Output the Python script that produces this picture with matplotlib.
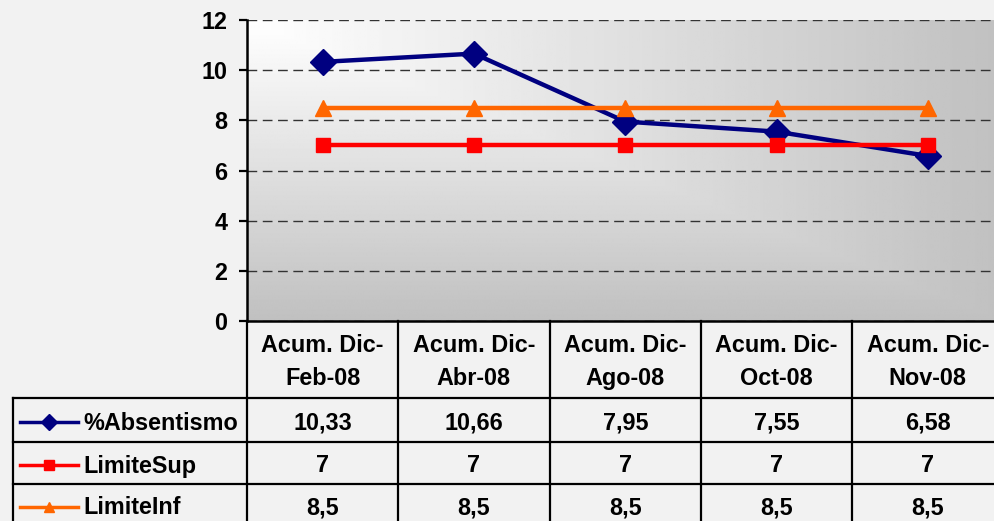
import numpy as np
import matplotlib.pyplot as plt
from matplotlib.lines import Line2D
from matplotlib.transforms import blended_transform_factory

plt.rcParams['font.family'] = ['Liberation Sans', 'DejaVu Sans']
plt.rcParams['font.weight'] = 'bold'

# datos
categorias = ['Acum. Dic-\nFeb-08', 'Acum. Dic-\nAbr-08', 'Acum. Dic-\nAgo-08',
              'Acum. Dic-\nOct-08', 'Acum. Dic-\nNov-08']
absentismo = [10.33, 10.66, 7.95, 7.55, 6.58]
limiteSup = [7, 7, 7, 7, 7]
limiteInf = [8.5, 8.5, 8.5, 8.5, 8.5]

series = [('%Absentismo', absentismo, '#000080', 'D', 13),
          ('LimiteSup', limiteSup, '#ff0000', 's', 10),
          ('LimiteInf', limiteInf, '#ff6600', '^', 11)]

W, H = 995, 521
fondo = '#f2f2f2'
fs = 16.8
fig = plt.figure(figsize=(W / 100, H / 100), dpi=100, facecolor=fondo)

def fx(px):
    return px / W

def fy(py):
    return (H - py) / H

x0, x1, ytop, ybot = 247, 1003.5, 20, 321
ax = fig.add_axes([fx(x0), fy(ybot), fx(x1 - x0), (ybot - ytop) / H])
ax.set_xlim(-0.5, len(categorias) - 0.5)
ax.set_ylim(0, 12)

# degradado de esquina (blanco arriba izquierda -> gris)
u = np.linspace(0, 1, 300)
uu, vv = np.meshgrid(u, u)
t = np.maximum(uu, vv)
grad = 255 - t * (255 - 192)
ax.imshow(grad, cmap='gray', vmin=0, vmax=255, extent=[0, 1, 0, 1],
          origin='upper', transform=ax.transAxes, aspect='auto', zorder=0)

ax.set_yticks(range(0, 13, 2))
ax.set_xticks([])
ax.tick_params(axis='y', length=6, width=1.6, pad=8, labelsize=fs)
ax.yaxis.grid(True, color='#333333', linestyle=(0, (7, 4)), linewidth=1)
ax.set_axisbelow(True)
for s in ['top', 'right']:
    ax.spines[s].set_visible(False)
ax.spines['left'].set_linewidth(1.8)
ax.spines['bottom'].set_linewidth(1.8)

xs = np.arange(len(categorias))
for nombre, vals, color, marca, tam in series:
    ax.plot(xs, vals, color=color, lw=3.2, marker=marca, ms=tam, zorder=3,
            clip_on=False)

# tabla de datos
tr = blended_transform_factory(ax.transData, fig.transFigure)
bordes = [-0.5 + i for i in range(len(categorias) + 1)]
filas = [398, 442, 484, 526]
lw_t = 1.6
for b in bordes:
    fig.add_artist(Line2D([b, b], [fy(ybot), fy(530)], transform=tr,
                          color='black', lw=lw_t))
for r in filas[:-1]:
    fig.add_artist(Line2D([fx(13), 1], [fy(r), fy(r)], color='black', lw=lw_t))
fig.add_artist(Line2D([fx(13), fx(13)], [fy(398), fy(530)], color='black', lw=lw_t))

for i, cat in enumerate(categorias):
    fig.text(i, fy(362), cat, transform=tr, ha='center', va='center',
             fontsize=fs, linespacing=1.55)

for k, (nombre, vals, color, marca, tam) in enumerate(series):
    yc = fy((filas[k] + filas[k + 1]) / 2 + 3)
    for i, v in enumerate(vals):
        fig.text(i, yc, f'{v:g}'.replace('.', ','), transform=tr,
                 ha='center', va='center', fontsize=fs)
    yl = fy((filas[k] + filas[k + 1]) / 2 + 2)
    fig.add_artist(Line2D([fx(20), fx(78)], [yl, yl], color=color, lw=2.5))
    fig.add_artist(Line2D([fx(49)], [yl], color=color, marker=marca,
                          ms=tam * 0.65, lw=0))
    fig.text(fx(83), yc, nombre, ha='left', va='center', fontsize=fs)

fig.savefig('out.png', dpi=100, facecolor=fondo)
